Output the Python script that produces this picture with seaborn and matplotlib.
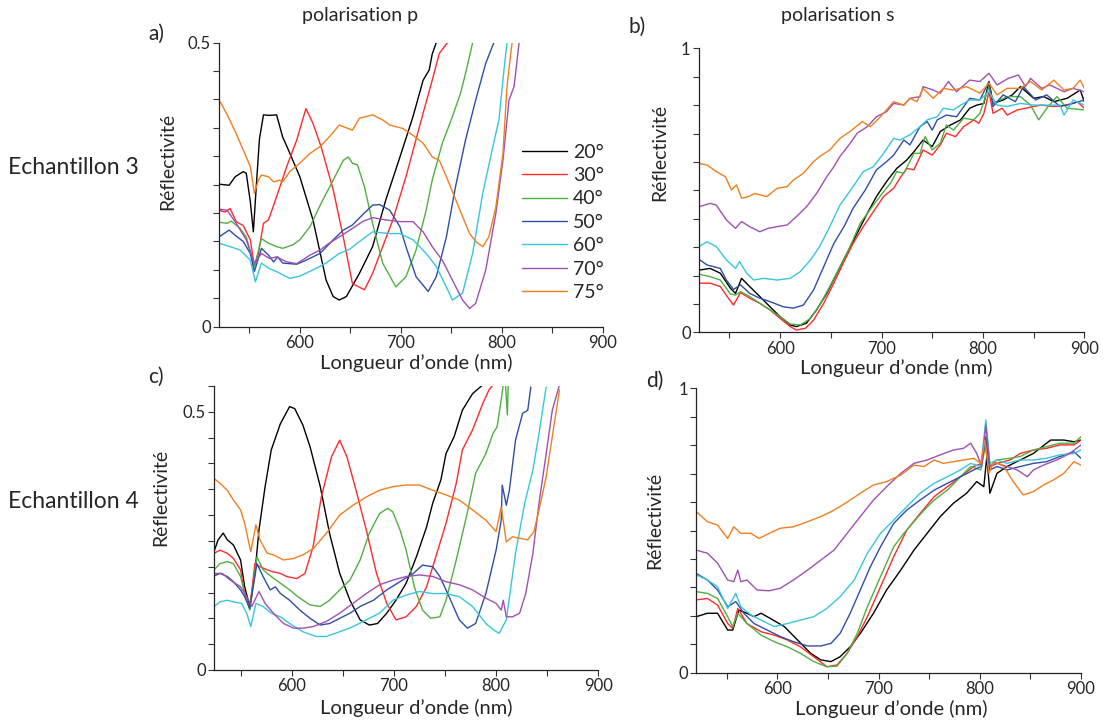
import pandas as pd
import matplotlib
matplotlib.use("Agg")
import matplotlib.pyplot as plt
import seaborn as sns
from matplotlib.ticker import MultipleLocator

# angles d'incidence et couleurs
angles = ["20°", "30°", "40°", "50°", "60°", "70°", "75°"]
couleurs = ["#000000", "#ff2a2a", "#4fb040", "#2f4ea8", "#38c6dc", "#a050b0", "#f07f1e"]

# ---- a) Echantillon 3, polarisation p : (longueur d'onde nm, réflectivité)
a20 = [(520,.251),(530,.249),(536,.264),(544,.273),(547,.270),(551,.220),(554,.167),(557,.250),(560,.330),(564,.373),(570,.372),(577,.373),(583,.334),(588,.314),(600,.264),(613,.188),(626,.082),(633,.053),(639,.047),(646,.053),(659,.094),(672,.141),(685,.223),(698,.293),(712,.370),(722,.434),(728,.452),(731,.480),(735,.500)]
a30 = [(520,.205),(526,.202),(531,.208),(537,.185),(544,.178),(551,.153),(555,.106),(559,.129),(564,.182),(569,.188),(577,.229),(587,.282),(597,.329),(606,.384),(613,.358),(621,.317),(633,.241),(643,.158),(652,.076),(664,.065),(672,.094),(682,.141),(692,.188),(705,.264),(722,.376),(731,.434),(738,.481),(746,.500)]
a40 = [(520,.184),(528,.182),(532,.186),(541,.173),(547,.158),(555,.106),(562,.155),(569,.147),(577,.141),(583,.138),(593,.144),(600,.153),(610,.176),(621,.217),(633,.258),(643,.293),(648,.299),(652,.288),(657,.285),(664,.246),(672,.182),(682,.112),(695,.070),(705,.088),(715,.135),(725,.205),(731,.258),(741,.323),(751,.370),(759,.411),(764,.446),(771,.500)]
a50 = [(520,.158),(530,.170),(536,.161),(544,.150),(551,.129),(555,.097),(562,.138),(569,.126),(574,.114),(578,.123),(583,.112),(597,.110),(606,.117),(620,.129),(633,.153),(643,.170),(652,.179),(662,.197),(672,.214),(679,.215),(689,.205),(699,.176),(705,.141),(715,.088),(727,.062),(735,.088),(745,.158),(754,.246),(764,.329),(774,.399),(784,.464),(792,.500)]
a60 = [(520,.147),(531,.141),(541,.135),(551,.117),(556,.079),(562,.112),(569,.103),(577,.097),(590,.085),(600,.089),(613,.100),(626,.112),(639,.129),(649,.136),(659,.150),(672,.167),(689,.164),(699,.164),(712,.153),(725,.129),(735,.106),(745,.070),(751,.047),(761,.059),(771,.129),(781,.235),(791,.317),(797,.364),(802,.452),(805,.500)]
a70 = [(520,.207),(528,.205),(537,.182),(547,.153),(555,.112),(562,.129),(570,.120),(577,.123),(587,.114),(597,.111),(610,.126),(620,.135),(629,.147),(639,.158),(652,.173),(662,.185),(672,.192),(685,.188),(699,.185),(712,.185),(722,.167),(731,.141),(741,.117),(751,.082),(761,.047),(768,.032),(774,.041),(784,.100),(794,.200),(801,.293),(807,.399),(812,.423),(817,.500)]
a75 = [(520,.399),(524,.387),(529,.370),(537,.340),(544,.311),(551,.282),(555,.235),(559,.258),(562,.267),(569,.264),(574,.255),(580,.258),(583,.255),(590,.273),(600,.288),(610,.305),(620,.317),(629,.334),(639,.355),(652,.346),(659,.367),(672,.373),(682,.364),(689,.355),(702,.349),(712,.337),(722,.323),(731,.299),(738,.293),(745,.264),(753,.229),(761,.194),(768,.164),(774,.150),(781,.141),(787,.158),(794,.211),(801,.305),(805,.423),(810,.500)]

# ---- b) Echantillon 3, polarisation s
b20 = [(520,.219),(531,.225),(541,.208),(551,.155),(556,.137),(562,.190),(570,.161),(580,.126),(590,.090),(600,.055),(610,.026),(616,.020),(626,.032),(636,.079),(646,.137),(656,.208),(666,.278),(676,.349),(686,.419),(695,.478),(705,.531),(715,.577),(725,.607),(732,.636),(741,.677),(750,.654),(758,.707),(768,.730),(778,.748),(787,.789),(794,.800),(801,.806),(806,.883),(810,.806),(820,.818),(829,.836),(837,.865),(850,.824),(860,.830),(870,.812),(883,.824),(896,.853),(900,.812)]
b30 = [(520,.173),(531,.173),(541,.161),(549,.120),(554,.096),(561,.140),(570,.120),(580,.102),(590,.079),(600,.049),(610,.020),(616,.008),(625,.014),(633,.043),(643,.102),(653,.173),(663,.249),(672,.313),(682,.372),(692,.425),(702,.478),(712,.507),(718,.542),(725,.577),(732,.572),(741,.642),(750,.624),(758,.660),(764,.701),(773,.689),(781,.724),(791,.748),(796,.736),(801,.771),(806,.847),(810,.771),(819,.789),(824,.765),(834,.783),(842,.789),(857,.800),(870,.795),(883,.800),(893,.812),(900,.789)]
b40 = [(520,.205),(531,.196),(541,.184),(551,.135),(556,.131),(561,.143),(570,.126),(580,.102),(590,.079),(600,.055),(610,.029),(620,.026),(630,.049),(639,.096),(649,.161),(659,.231),(669,.302),(679,.384),(692,.448),(702,.495),(709,.525),(715,.566),(722,.560),(732,.630),(738,.630),(743,.689),(750,.642),(758,.666),(764,.730),(771,.712),(781,.754),(791,.748),(797,.771),(806,.865),(810,.806),(824,.830),(837,.830),(847,.800),(855,.748),(863,.789),(873,.830),(883,.789),(900,.783)]
b50 = [(520,.257),(528,.237),(541,.225),(547,.184),(554,.151),(561,.167),(570,.137),(580,.120),(590,.108),(603,.090),(613,.085),(623,.096),(633,.149),(643,.231),(653,.313),(663,.372),(672,.437),(684,.501),(695,.572),(705,.601),(712,.624),(722,.677),(728,.660),(738,.724),(745,.742),(750,.712),(755,.748),(764,.765),(774,.759),(787,.824),(797,.818),(806,.883),(810,.795),(820,.836),(832,.812),(840,.865),(852,.818),(863,.836),(876,.795),(889,.806),(900,.818)]
b60 = [(520,.302),(528,.319),(537,.302),(547,.255),(556,.225),(560,.249),(567,.208),(574,.184),(584,.190),(597,.184),(610,.190),(620,.214),(630,.255),(639,.302),(649,.372),(659,.448),(672,.513),(682,.566),(692,.583),(702,.630),(712,.683),(718,.677),(728,.695),(738,.724),(745,.748),(755,.759),(761,.789),(771,.783),(778,.800),(787,.818),(797,.818),(806,.847),(814,.800),(824,.795),(837,.806),(850,.800),(863,.800),(876,.800),(880,.765),(889,.818),(900,.800)]
b70 = [(520,.442),(531,.454),(537,.448),(547,.396),(556,.366),(562,.390),(570,.372),(580,.354),(588,.366),(597,.372),(607,.378),(616,.407),(626,.442),(636,.489),(646,.548),(653,.583),(659,.619),(669,.665),(676,.701),(686,.724),(695,.759),(705,.777),(712,.806),(722,.800),(728,.824),(738,.830),(741,.865),(751,.853),(758,.842),(766,.883),(774,.847),(787,.888),(797,.883),(806,.912),(814,.871),(825,.894),(835,.906),(842,.865),(847,.894),(858,.859),(866,.871),(880,.847),(889,.859),(900,.847)]
b75 = [(520,.595),(528,.589),(537,.566),(546,.548),(552,.501),(557,.519),(562,.472),(569,.478),(575,.489),(587,.478),(597,.507),(607,.513),(613,.536),(623,.560),(633,.601),(639,.619),(649,.642),(659,.683),(669,.707),(681,.742),(689,.724),(699,.759),(712,.812),(722,.800),(728,.824),(735,.812),(741,.859),(751,.824),(761,.859),(771,.853),(784,.865),(791,.853),(797,.842),(806,.877),(814,.836),(824,.859),(837,.859),(847,.883),(858,.853),(870,.888),(880,.853),(889,.859),(896,.888),(900,.859)]

# ---- c) Echantillon 4, polarisation p
c20 = [(524,.229),(528,.252),(533,.265),(537,.252),(543,.242),(550,.213),(554,.161),(559,.123),(564,.187),(568,.271),(574,.355),(580,.426),(589,.477),(598,.510),(603,.506),(611,.474),(618,.432),(628,.355),(637,.265),(647,.187),(657,.135),(667,.097),(676,.087),(684,.090),(693,.110),(702,.135),(712,.168),(722,.219),(732,.277),(738,.323),(746,.368),(751,.419),(759,.452),(767,.503),(777,.535),(787,.552)]
c30 = [(524,.226),(530,.232),(537,.226),(543,.216),(550,.194),(554,.148),(559,.119),(564,.206),(569,.200),(576,.194),(582,.190),(589,.187),(595,.181),(605,.177),(613,.187),(621,.239),(629,.335),(639,.413),(647,.445),(654,.413),(663,.348),(673,.271),(683,.187),(693,.129),(702,.097),(712,.103),(722,.123),(732,.161),(741,.219),(751,.284),(761,.361),(767,.426),(777,.465),(787,.516),(793,.542),(797,.552)]
c40 = [(524,.194),(530,.206),(537,.210),(543,.206),(550,.181),(554,.148),(559,.116),(566,.219),(572,.194),(580,.181),(589,.168),(598,.155),(608,.139),(618,.126),(628,.123),(637,.135),(647,.155),(657,.174),(667,.213),(676,.265),(686,.303),(694,.313),(699,.306),(706,.271),(712,.232),(720,.161),(728,.116),(736,.100),(745,.103),(751,.135),(761,.213),(771,.297),(780,.381),(790,.419),(797,.458),(801,.471),(805,.523),(807,.552),(809,.560),(811,.494),(812,.560)]
c50 = [(524,.182),(530,.187),(537,.181),(543,.171),(550,.155),(554,.142),(559,.119),(566,.206),(572,.181),(579,.155),(584,.161),(589,.148),(598,.135),(608,.116),(618,.100),(628,.087),(637,.090),(647,.100),(657,.110),(667,.123),(680,.135),(693,.155),(706,.171),(719,.187),(728,.203),(738,.200),(745,.181),(754,.142),(764,.097),(772,.081),(780,.090),(790,.148),(800,.232),(805,.290),(806,.358),(810,.319),(813,.348),(819,.445),(826,.497),(831,.503),(834,.548)]
c60 = [(524,.123),(530,.132),(537,.135),(543,.132),(551,.129),(556,.110),(560,.084),(565,.129),(572,.123),(580,.110),(589,.103),(598,.090),(611,.074),(624,.065),(634,.065),(647,.074),(660,.084),(673,.097),(686,.110),(699,.135),(712,.145),(725,.152),(738,.148),(751,.148),(764,.142),(777,.123),(790,.090),(798,.077),(803,.071),(810,.097),(819,.226),(828,.323),(836,.387),(842,.458),(849,.548)]
c70 = [(524,.187),(532,.187),(540,.174),(550,.161),(556,.142),(561,.123),(568,.152),(574,.129),(582,.110),(592,.090),(602,.081),(611,.081),(621,.084),(634,.094),(647,.110),(660,.129),(673,.148),(686,.165),(699,.174),(712,.181),(725,.184),(738,.181),(751,.171),(764,.165),(777,.155),(790,.139),(800,.129),(805,.116),(807,.135),(810,.103),(816,.103),(823,.110),(829,.148),(836,.226),(842,.323),(849,.419),(855,.503),(862,.552)]
c75 = [(524,.371),(530,.361),(537,.348),(543,.329),(550,.310),(554,.284),(560,.229),(565,.281),(569,.252),(576,.226),(582,.223),(592,.213),(602,.216),(611,.223),(621,.235),(634,.265),(647,.300),(660,.319),(673,.335),(686,.348),(699,.355),(712,.358),(725,.358),(738,.348),(751,.339),(764,.329),(777,.310),(790,.290),(800,.268),(805,.316),(810,.248),(816,.258),(823,.255),(831,.252),(837,.268),(842,.310),(849,.374),(855,.452),(862,.542)]

# ---- d) Echantillon 4, polarisation s
d20 = [(520,.197),(531,.209),(541,.209),(551,.150),(556,.150),(562,.220),(570,.209),(577,.197),(584,.209),(593,.191),(607,.162),(620,.115),(633,.068),(643,.045),(653,.039),(662,.056),(672,.091),(682,.138),(695,.209),(708,.291),(722,.361),(735,.431),(748,.490),(761,.549),(774,.596),(787,.631),(797,.672),(804,.654),(807,.760),(810,.631),(817,.701),(827,.725),(840,.748),(853,.771),(870,.818),(883,.818),(893,.812),(900,.818)]
d30 = [(520,.256),(531,.261),(541,.238),(551,.173),(556,.156),(561,.226),(570,.173),(584,.144),(597,.132),(610,.115),(623,.091),(636,.056),(649,.021),(659,.027),(669,.068),(679,.127),(689,.197),(702,.302),(715,.408),(728,.502),(741,.560),(755,.619),(768,.654),(781,.689),(794,.725),(802,.736),(806,.807),(810,.725),(817,.736),(830,.748),(840,.771),(853,.783),(866,.789),(879,.801),(893,.801),(900,.818)]
d40 = [(520,.285),(531,.279),(541,.261),(551,.197),(556,.162),(561,.209),(570,.173),(584,.132),(597,.109),(610,.091),(623,.068),(636,.039),(649,.021),(659,.023),(669,.068),(679,.138),(689,.232),(702,.338),(715,.443),(725,.490),(735,.531),(745,.572),(755,.607),(768,.642),(781,.689),(791,.725),(801,.713),(805,.795),(810,.725),(817,.748),(830,.754),(840,.760),(853,.783),(866,.795),(879,.807),(893,.807),(900,.830)]
d50 = [(520,.349),(531,.326),(541,.291),(551,.232),(559,.250),(567,.209),(577,.173),(590,.150),(603,.127),(616,.109),(630,.094),(643,.094),(653,.103),(662,.138),(672,.209),(682,.291),(692,.373),(702,.443),(715,.525),(728,.572),(741,.607),(755,.642),(768,.666),(781,.689),(794,.713),(801,.725),(806,.830),(810,.713),(817,.725),(827,.713),(840,.725),(853,.736),(866,.742),(879,.760),(893,.777),(900,.754)]
d60 = [(520,.344),(531,.326),(541,.302),(551,.226),(559,.279),(564,.232),(574,.203),(584,.185),(597,.162),(610,.173),(623,.185),(636,.197),(649,.226),(662,.267),(676,.326),(689,.420),(702,.490),(715,.537),(728,.584),(741,.631),(755,.666),(768,.689),(781,.713),(791,.736),(801,.725),(806,.889),(810,.736),(817,.748),(827,.736),(840,.748),(853,.748),(866,.754),(879,.766),(893,.771),(900,.783)]
d70 = [(520,.431),(531,.420),(541,.385),(551,.326),(557,.320),(561,.361),(564,.320),(570,.326),(580,.291),(592,.288),(603,.297),(616,.326),(630,.361),(643,.396),(656,.431),(669,.490),(682,.549),(695,.607),(708,.654),(722,.701),(735,.736),(748,.748),(761,.766),(774,.783),(784,.789),(791,.807),(797,.771),(802,.725),(806,.871),(810,.725),(817,.736),(827,.725),(837,.713),(847,.689),(853,.713),(863,.730),(876,.748),(889,.771),(900,.801)]
d75 = [(520,.566),(531,.531),(541,.519),(551,.472),(557,.513),(564,.490),(574,.490),(582,.472),(592,.490),(603,.508),(616,.513),(630,.531),(643,.549),(653,.566),(662,.584),(672,.607),(682,.631),(695,.660),(708,.672),(722,.695),(735,.730),(745,.725),(755,.748),(764,.736),(774,.742),(784,.748),(794,.754),(801,.736),(805,.818),(809,.701),(814,.742),(824,.725),(833,.672),(843,.625),(853,.637),(863,.660),(873,.678),(883,.701),(893,.742),(900,.730)]

panneaux = {
    "a": [a20, a30, a40, a50, a60, a70, a75],
    "b": [b20, b30, b40, b50, b60, b70, b75],
    "c": [c20, c30, c40, c50, c60, c70, c75],
    "d": [d20, d30, d40, d50, d60, d70, d75],
}


def en_table(courbes):
    lignes = []
    for angle, pts in zip(angles, courbes):
        for wl, r in pts:
            lignes.append({"wl": wl, "R": r, "angle": angle})
    return pd.DataFrame(lignes)


sns.set_style("ticks")
plt.rcParams["font.family"] = ["Lato", "DejaVu Sans"]

W, H = 1105, 722
fig = plt.figure(figsize=(W / 100, H / 100), dpi=100)


def boite(x0, x1, y0, y1):
    # pixels -> fraction de figure
    return [x0 / W, 1 - y1 / H, (x1 - x0) / W, (y1 - y0) / H]


# position des axes, limites x et y, labels y, pas mineur, coords des labels
reglages = {
    "a": (boite(219, 603, 42.7, 326.7), (520, 900), (0, 0.5), ["0", "0.5"], 0.05, (0.514, -0.128), (-0.134, 0.583)),
    "b": (boite(699, 1084.3, 48.3, 332.3), (520, 900), (0, 1), ["0", "1"], 0.1, (0.511, -0.124), (-0.1025, 0.633)),
    "c": (boite(214, 598.3, 385.9, 670), (524, 900), (0, 0.55), ["0", "0.5"], 0.05, (0.527, -0.132), (-0.138, 0.607)),
    "d": (boite(696.3, 1081, 388.3, 672.7), (520, 900), (0, 1), ["0", "1"], 0.1, (0.507, -0.129), (-0.109, 0.535)),
}

for cle, (pos, xl, yl, ylab, pas, xlc, ylc) in reglages.items():
    ax = fig.add_axes(pos)
    df = en_table(panneaux[cle])
    sns.lineplot(data=df, x="wl", y="R", hue="angle", hue_order=angles,
                 palette=couleurs, estimator=None, sort=False,
                 linewidth=1.0, ax=ax, legend=(cle == "a"))
    ax.set_xlim(*xl)
    ax.set_ylim(*yl)
    ax.set_xticks([600, 700, 800, 900])
    ax.xaxis.set_minor_locator(MultipleLocator(50))
    ax.set_yticks([0, 1] if ylab[1] == "1" else [0, 0.5])
    ax.set_yticklabels(ylab)
    ax.yaxis.set_minor_locator(MultipleLocator(pas))
    ax.tick_params(which="both", direction="out", length=4, width=0.8,
                   color="#333333", labelsize=12, pad=2)
    sns.despine(ax=ax)
    for s in ["left", "bottom"]:
        ax.spines[s].set_linewidth(0.9)
        ax.spines[s].set_color("#222222")

    ax.set_xlabel("Longueur d’onde (nm)", fontsize=14.5)
    ax.xaxis.set_label_coords(*xlc)
    ax.xaxis.label.set_va("center")
    ax.set_ylabel("Réflectivité", fontsize=14)
    ax.yaxis.set_label_coords(*ylc)
    ax.yaxis.label.set_va("center")

    if cle == "a":
        ax.legend(title=None, frameon=False, loc="upper left",
                  bbox_to_anchor=(0.79, 0.645), fontsize=14,
                  handlelength=2.3, handletextpad=0.3, labelspacing=0.33,
                  borderpad=0, borderaxespad=0)

# textes de la figure
def texte(x, y, s, **kw):
    fig.text(x / W, 1 - y / H, s, va="center", **kw)

texte(360, 16, "polarisation p", ha="center", fontsize=14)
texte(838, 16, "polarisation s", ha="center", fontsize=14)
texte(148, 34, "a)", ha="left", fontsize=15)
texte(629, 27, "b)", ha="left", fontsize=15)
texte(148, 377, "c)", ha="left", fontsize=15)
texte(646, 381, "d)", ha="left", fontsize=15)
texte(8, 168, "Echantillon 3", ha="left", fontsize=16.5)
texte(8, 502, "Echantillon 4", ha="left", fontsize=16.5)

fig.savefig("out.png", dpi=100)
